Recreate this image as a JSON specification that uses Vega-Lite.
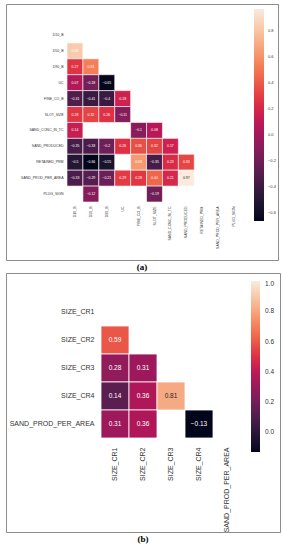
{
  "$schema": "https://vega.github.io/schema/vega-lite/v6.json",
  "padding": {"left": 5, "top": 3, "right": 0, "bottom": 0},
  "background": "white",
  "config": {
    "view": {"stroke": "#8c8c8c", "strokeWidth": 1},
    "concat": {"spacing": -3},
    "font": "Liberation Sans"
  },
  "datasets": {
    "a": [
      {"row": "D50_B", "col": "D10_B", "value": 0.83},
      {"row": "D90_B", "col": "D10_B", "value": 0.27},
      {"row": "D90_B", "col": "D50_B", "value": 0.53},
      {"row": "UC", "col": "D10_B", "value": 0.07},
      {"row": "UC", "col": "D50_B", "value": -0.18},
      {"row": "UC", "col": "D90_B", "value": -0.65},
      {"row": "FINE_CO_B", "col": "D10_B", "value": -0.31},
      {"row": "FINE_CO_B", "col": "D50_B", "value": -0.41},
      {"row": "FINE_CO_B", "col": "D90_B", "value": -0.4},
      {"row": "FINE_CO_B", "col": "UC", "value": 0.18},
      {"row": "SLOT_SIZE", "col": "D10_B", "value": 0.28},
      {"row": "SLOT_SIZE", "col": "D50_B", "value": 0.32},
      {"row": "SLOT_SIZE", "col": "D90_B", "value": 0.26},
      {"row": "SLOT_SIZE", "col": "UC", "value": -0.11},
      {"row": "SAND_CONC_IN_TC", "col": "D10_B", "value": 0.14},
      {"row": "SAND_CONC_IN_TC", "col": "FINE_CO_B", "value": -0.1},
      {"row": "SAND_CONC_IN_TC", "col": "SLOT_SIZE", "value": 0.08},
      {"row": "SAND_PRODUCED", "col": "D10_B", "value": -0.35},
      {"row": "SAND_PRODUCED", "col": "D50_B", "value": -0.33},
      {"row": "SAND_PRODUCED", "col": "D90_B", "value": -0.2},
      {"row": "SAND_PRODUCED", "col": "UC", "value": 0.26},
      {"row": "SAND_PRODUCED", "col": "FINE_CO_B", "value": 0.36},
      {"row": "SAND_PRODUCED", "col": "SLOT_SIZE", "value": 0.32},
      {"row": "SAND_PRODUCED", "col": "SAND_CONC_IN_TC", "value": 0.17},
      {"row": "RETAINED_PRM", "col": "D10_B", "value": -0.5},
      {"row": "RETAINED_PRM", "col": "D50_B", "value": -0.66},
      {"row": "RETAINED_PRM", "col": "D90_B", "value": -0.55},
      {"row": "RETAINED_PRM", "col": "FINE_CO_B", "value": 0.63},
      {"row": "RETAINED_PRM", "col": "SLOT_SIZE", "value": -0.35},
      {"row": "RETAINED_PRM", "col": "SAND_CONC_IN_TC", "value": 0.23},
      {"row": "RETAINED_PRM", "col": "SAND_PRODUCED", "value": 0.33},
      {"row": "SAND_PROD_PER_AREA", "col": "D10_B", "value": -0.33},
      {"row": "SAND_PROD_PER_AREA", "col": "D50_B", "value": -0.29},
      {"row": "SAND_PROD_PER_AREA", "col": "D90_B", "value": -0.21},
      {"row": "SAND_PROD_PER_AREA", "col": "UC", "value": 0.29},
      {"row": "SAND_PROD_PER_AREA", "col": "FINE_CO_B", "value": 0.28},
      {"row": "SAND_PROD_PER_AREA", "col": "SLOT_SIZE", "value": 0.44},
      {"row": "SAND_PROD_PER_AREA", "col": "SAND_CONC_IN_TC", "value": 0.21},
      {"row": "SAND_PROD_PER_AREA", "col": "SAND_PRODUCED", "value": 0.97},
      {"row": "PLUG_SIGN", "col": "D50_B", "value": -0.12},
      {"row": "PLUG_SIGN", "col": "SLOT_SIZE", "value": -0.19}
    ],
    "b": [
      {"row": "SIZE_CR2", "col": "SIZE_CR1", "value": 0.59},
      {"row": "SIZE_CR3", "col": "SIZE_CR1", "value": 0.28},
      {"row": "SIZE_CR3", "col": "SIZE_CR2", "value": 0.31},
      {"row": "SIZE_CR4", "col": "SIZE_CR1", "value": 0.14},
      {"row": "SIZE_CR4", "col": "SIZE_CR2", "value": 0.36},
      {"row": "SIZE_CR4", "col": "SIZE_CR3", "value": 0.81},
      {"row": "SAND_PROD_PER_AREA", "col": "SIZE_CR1", "value": 0.31},
      {"row": "SAND_PROD_PER_AREA", "col": "SIZE_CR2", "value": 0.36},
      {"row": "SAND_PROD_PER_AREA", "col": "SIZE_CR4", "value": -0.13}
    ]
  },
  "vconcat": [
    {
      "width": 272,
      "height": 256,
      "title": {"text": "(a)", "orient": "bottom", "font": "Liberation Serif", "fontSize": 9, "fontWeight": "bold", "offset": 3, "color": "#000"},
      "data": {"name": "a"},
      "encoding": {
        "x": {
          "field": "col", "type": "nominal",
          "scale": {"domain": ["D10_B", "D50_B", "D90_B", "UC", "FINE_CO_B", "SLOT_SIZE", "SAND_CONC_IN_TC", "SAND_PRODUCED", "RETAINED_PRM", "SAND_PROD_PER_AREA", "PLUG_SIGN"], "paddingInner": 0, "paddingOuter": 0, "range": [61, 236]},
          "axis": {"orient": "bottom", "offset": -58, "title": null, "ticks": false, "domain": false, "labelAngle": -90, "labelAlign": "right", "labelBaseline": "middle", "labelFontSize": 3.5, "labelPadding": 4, "labelColor": "#333"}
        },
        "y": {
          "field": "row", "type": "nominal",
          "scale": {"domain": ["D10_B", "D50_B", "D90_B", "UC", "FINE_CO_B", "SLOT_SIZE", "SAND_CONC_IN_TC", "SAND_PRODUCED", "RETAINED_PRM", "SAND_PROD_PER_AREA", "PLUG_SIGN"], "paddingInner": 0, "paddingOuter": 0, "range": [23, 198]},
          "axis": {"orient": "left", "offset": -61, "title": null, "ticks": false, "domain": false, "labelFontSize": 3.5, "labelPadding": 4, "labelColor": "#333"}
        }
      },
      "layer": [
        {
          "mark": {"type": "rect", "stroke": "white", "strokeWidth": 0.6},
          "encoding": {
            "color": {
              "field": "value", "type": "quantitative",
              "scale": {"domain": [-0.66, 0.97], "range": ["#03051a", "#35193e", "#701f57", "#ad1759", "#e13342", "#f37651", "#f6b48f", "#faebdd"]},
              "legend": {"orient": "none", "legendX": 248, "legendY": 5, "direction": "vertical", "gradientLength": 212, "gradientThickness": 10, "title": null, "values": [-0.6, -0.4, -0.2, 0, 0.2, 0.4, 0.6, 0.8], "format": ".1f", "labelFontSize": 4, "labelOffset": 4, "labelOverlap": false, "labelColor": "#333", "gradientStrokeWidth": 0}
            }
          }
        },
        {
          "mark": {"type": "text", "fontSize": 3.5},
          "encoding": {
            "text": {"field": "value", "type": "quantitative", "format": ".2~f"},
            "color": {"condition": {"test": "datum.value > 0.9", "value": "#262626"}, "value": "#ffffff"}
          }
        }
      ]
    },
    {
      "width": 274,
      "height": 259,
      "title": {"text": "(b)", "orient": "bottom", "font": "Liberation Serif", "fontSize": 9, "fontWeight": "bold", "offset": 3, "color": "#000"},
      "data": {"name": "b"},
      "encoding": {
        "x": {
          "field": "col", "type": "nominal",
          "scale": {"domain": ["SIZE_CR1", "SIZE_CR2", "SIZE_CR3", "SIZE_CR4", "SAND_PROD_PER_AREA"], "paddingInner": 0, "paddingOuter": 0, "range": [95, 235]},
          "axis": {"orient": "bottom", "offset": -94, "title": null, "ticks": false, "domain": false, "labelAngle": -90, "labelAlign": "right", "labelBaseline": "middle", "labelFontSize": 7, "labelPadding": 9, "labelColor": "#333"}
        },
        "y": {
          "field": "row", "type": "nominal",
          "scale": {"domain": ["SIZE_CR1", "SIZE_CR2", "SIZE_CR3", "SIZE_CR4", "SAND_PROD_PER_AREA"], "paddingInner": 0, "paddingOuter": 0, "range": [25, 165]},
          "axis": {"orient": "left", "offset": -95, "title": null, "ticks": false, "domain": false, "labelFontSize": 7, "labelPadding": 7, "labelColor": "#333"}
        }
      },
      "layer": [
        {
          "mark": {"type": "rect", "stroke": "white", "strokeWidth": 0.8},
          "encoding": {
            "color": {
              "field": "value", "type": "quantitative",
              "scale": {"domain": [-0.13, 1.0], "range": ["#03051a", "#35193e", "#701f57", "#ad1759", "#e13342", "#f37651", "#f6b48f", "#faebdd"]},
              "legend": {"orient": "none", "legendX": 245, "legendY": 8, "direction": "vertical", "gradientLength": 171, "gradientThickness": 9, "title": null, "values": [0, 0.2, 0.4, 0.6, 0.8, 1.0], "format": ".1f", "labelFontSize": 6.5, "labelOffset": 5, "labelOverlap": false, "labelColor": "#333", "gradientStrokeWidth": 0}
            }
          }
        },
        {
          "mark": {"type": "text", "fontSize": 6.5},
          "encoding": {
            "text": {"field": "value", "type": "quantitative", "format": ".2~f"},
            "color": {"condition": {"test": "datum.value > 0.7", "value": "#262626"}, "value": "#ffffff"}
          }
        }
      ]
    }
  ],
  "resolve": {"scale": {"color": "independent", "x": "independent", "y": "independent"}, "legend": {"color": "independent"}}
}
